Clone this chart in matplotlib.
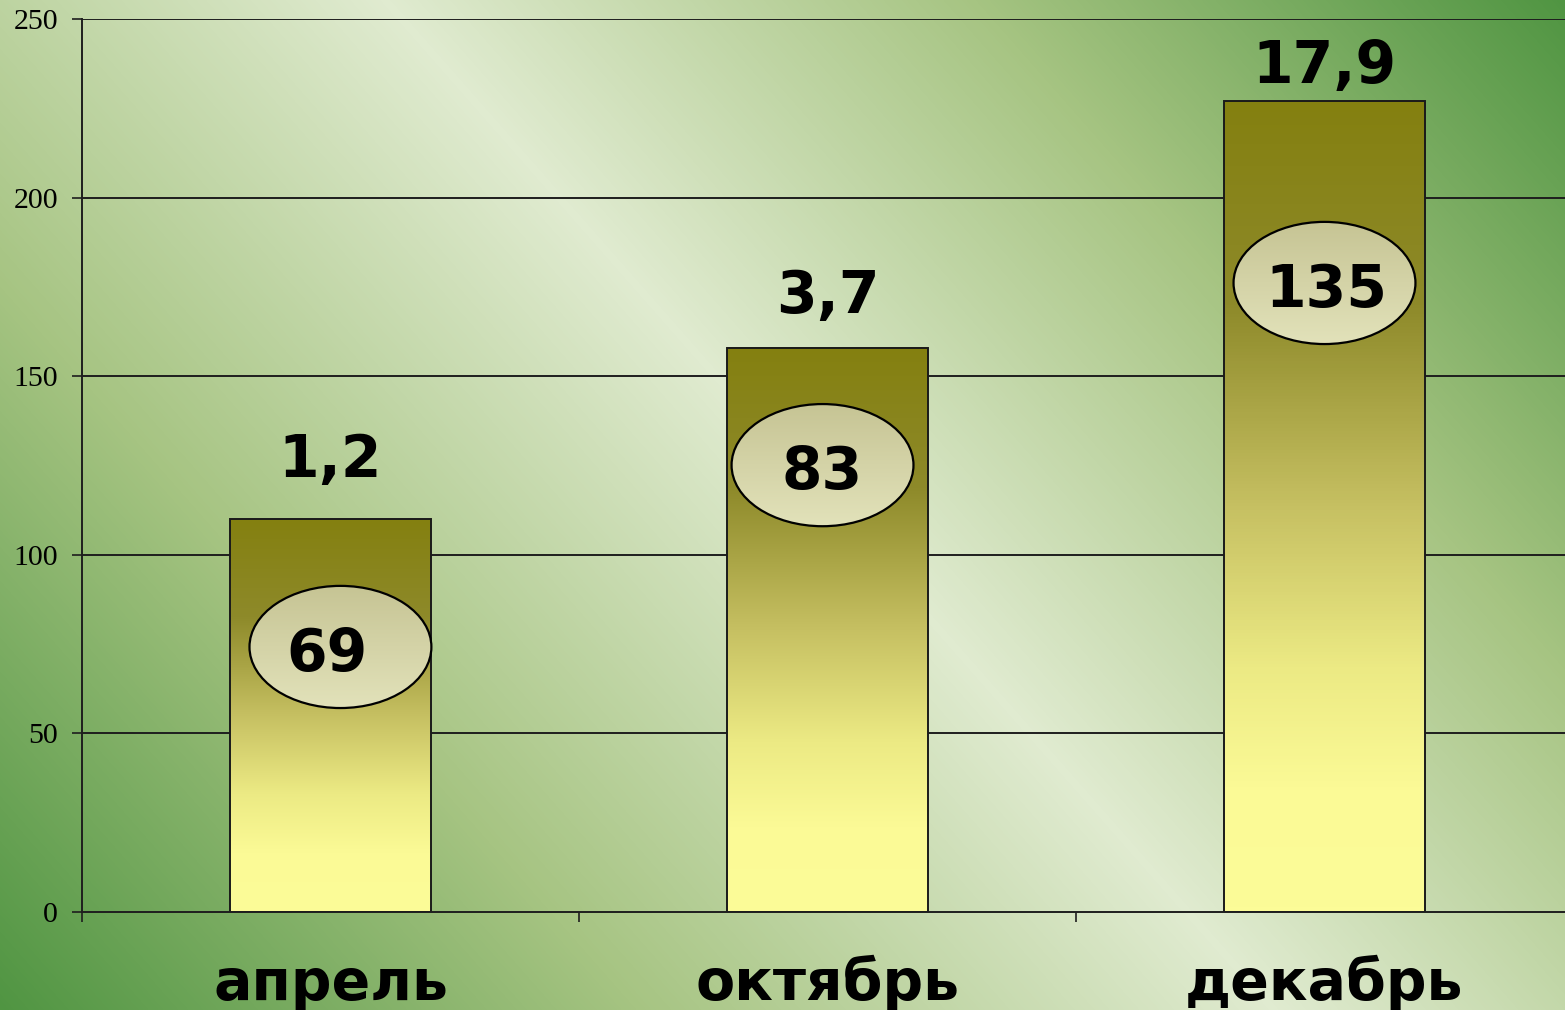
import numpy as np
import matplotlib
matplotlib.use("Agg")
import matplotlib.pyplot as plt
from matplotlib.patches import Ellipse
from matplotlib.colors import LinearSegmentedColormap

# ---- data ----
categories = ["апрель", "октябрь", "декабрь"]
bar_values = [110, 158, 227]
top_labels = ["1,2", "3,7", "17,9"]
inner_labels = ["69", "83", "135"]
yticks = [0, 50, 100, 150, 200, 250]

# ---- layout / style (not data) ----
top_label_baseline = [121.8, 167.7, 232.1]
ellipse_center_y = [74.2, 125.1, 176.1]
ellipse_dx = [0.02, -0.01, 0.0]
inner_text_dx = [-0.008, -0.01, 0.004]
ellipse_w = 0.366
ellipse_h = 34.2
bar_width = 0.404

W, H = 1565, 1010
fig = plt.figure(figsize=(W / 100, H / 100), dpi=100)

# background gradient
bg_ax = fig.add_axes([0, 0, 1, 1], zorder=0)
yy, xx = np.mgrid[0:H, 0:W]
t = 0.75 * xx - 0.66 * yy
band = 289.0
d = np.where(t < band, (band - t) / 956.0, (t - band) / 885.0)
d = np.clip(d, 0, 1)
light = np.array([0xe0, 0xeb, 0xd0]) / 255
mid = np.array([0xa6, 0xc4, 0x82]) / 255
dark = np.array([0x50, 0x95, 0x42]) / 255
bg_cmap = LinearSegmentedColormap.from_list("bg", [(0, light), (0.5, mid), (1, dark)])
bg_ax.imshow(bg_cmap(d), aspect="auto", extent=[0, 1, 0, 1], origin="upper")
bg_ax.set_axis_off()

ax = fig.add_axes([82 / W, 98 / H, 1491 / W, 893 / H], zorder=1)
ax.patch.set_alpha(0)

x = np.arange(len(categories))
bar_cmap = LinearSegmentedColormap.from_list(
    "bar", [(0, "#848010"), (0.25, "#8e8a2a"), (0.5, "#c6c062"), (0.7, "#ecea84"), (0.85, "#fbfa96"), (1, "#fcfc98")])
ell_cmap = LinearSegmentedColormap.from_list("ell", ["#c6c494", "#e2e2ba"])

grad = np.linspace(0, 1, 256).reshape(-1, 1)
for xi, v in zip(x, bar_values):
    ax.imshow(grad, cmap=bar_cmap, aspect="auto", origin="upper",
              extent=[xi - bar_width / 2, xi + bar_width / 2, 0, v], zorder=3, interpolation="bilinear")
bars = ax.bar(x, bar_values, width=bar_width, fill=False, edgecolor="#1a1a1a", linewidth=1.4, zorder=4)

for xi, cy, dx, tdx, lab in zip(x, ellipse_center_y, ellipse_dx, inner_text_dx, inner_labels):
    e = Ellipse((xi + dx, cy), ellipse_w, ellipse_h, facecolor="none", edgecolor="black", linewidth=1.6, zorder=6)
    ax.add_patch(e)
    im = ax.imshow(grad, cmap=ell_cmap, aspect="auto", origin="upper",
                   extent=[xi + dx - ellipse_w / 2, xi + dx + ellipse_w / 2, cy - ellipse_h / 2, cy + ellipse_h / 2],
                   zorder=5, interpolation="bilinear")
    im.set_clip_path(e)
    ax.text(xi + tdx, cy - 6.6, lab, ha="center", va="baseline", fontsize=42,
            fontweight="bold", family="DejaVu Sans", color="black", zorder=7)

for xi, yb, lab in zip(x, top_label_baseline, top_labels):
    ax.text(xi, yb, lab, ha="center", va="baseline", fontsize=42,
            fontweight="bold", family="DejaVu Sans", color="black", zorder=7)

for xi, cat in zip(x, categories):
    ax.text(xi, -24.6, cat, ha="center", va="baseline", fontsize=41,
            fontweight="bold", family="DejaVu Sans", color="black", clip_on=False, zorder=7)

ax.set_xlim(-0.5, len(categories) - 0.5)
ax.set_ylim(0, 250)
for yv in yticks[1:]:
    ax.axhline(yv, color="#1e1e1e", linewidth=1.4, zorder=2)
ax.set_yticks(yticks)
ax.set_yticklabels([str(v) for v in yticks], fontsize=21.5, family="Liberation Serif")
ax.set_xticks(np.arange(-0.5, len(categories) - 0.4, 1.0))
ax.set_xticklabels([])
ax.tick_params(axis="both", direction="out", length=7.2, width=1.2, color="#1e1e1e")
ax.tick_params(axis="y", pad=10)
for s in ["top", "right"]:
    ax.spines[s].set_visible(False)
for s in ["left", "bottom"]:
    ax.spines[s].set_linewidth(1.4)
    ax.spines[s].set_color("#1e1e1e")
    ax.spines[s].set_zorder(8)

fig.savefig("out.png", dpi=100)
